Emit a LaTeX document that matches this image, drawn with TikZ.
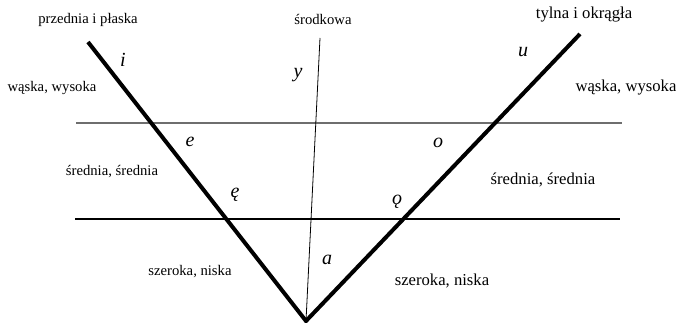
\documentclass[tikz,border=0pt]{standalone}
\usepackage{fontspec}
\setmainfont{Liberation Serif}
\usepackage{tikz}
\usetikzlibrary{arrows.meta}
\definecolor{rulegray}{RGB}{110,110,110}

\tikzset{
  leftlabel/.style={font=\fontsize{11}{13}\selectfont},
  rightlabel/.style={font=\fontsize{12.5}{14}\selectfont},
  vowel/.style={font=\fontsize{15}{17}\selectfont\itshape},
}

\begin{document}
\begin{tikzpicture}[x=0.75pt, y=-0.75pt, >=Stealth]
\useasboundingbox (0,0) rectangle (676,323);

% Define the corners of the vowel triangle
\coordinate (bottom) at (306,321);
\coordinate (front) at (88,42);
\coordinate (back) at (580,34);
\coordinate (mid) at (320,38);

% Height levels
\coordinate (high-l) at (76,123);
\coordinate (high-r) at (622,123);
\coordinate (low-l) at (75,219);
\coordinate (low-r) at (620,219);
\draw[rulegray, line width=0.8pt] (high-l) -- (high-r);
\draw[line width=0.8pt] (low-l) -- (low-r);

% Tongue positions
\draw[line width=0.6pt] (mid) -- (bottom);
\draw[line width=3pt] (front) -- (bottom) -- (back);

% Labels for the lines
\node[leftlabel] (przednia) at (88,20) {przednia i płaska};
\node[leftlabel] (srodkowa) at (323,19) {środkowa};
\node[rightlabel] (tylna) at (584,15) {tylna i okrągła};

% Labels for the heights
\node[leftlabel] (wysokaL) at (52,88) {wąska, wysoka};
\node[rightlabel] (wysokaR) at (626,88) {wąska, wysoka};
\node[leftlabel] (sredniaL) at (112,172) {średnia, średnia};
\node[rightlabel] (sredniaR) at (543,180) {średnia, średnia};
\node[leftlabel] (niskaL) at (190,272) {szeroka, niska};
\node[rightlabel] (niskaR) at (442,281) {szeroka, niska};

% Vowels
\node[vowel] (vi) at (123,60) {i};
\node[vowel] (vy) at (298,75) {y};
\node[vowel] (vu) at (523,52) {u};
\node[vowel] (ve) at (190,142) {e};
\node[vowel] (vo) at (438,143) {o};
\node[vowel] (ven) at (235,195) {ę};
\node[vowel] (von) at (397,202) {ǫ};
\node[vowel] (va) at (327,260) {a};
\end{tikzpicture}
\end{document}
